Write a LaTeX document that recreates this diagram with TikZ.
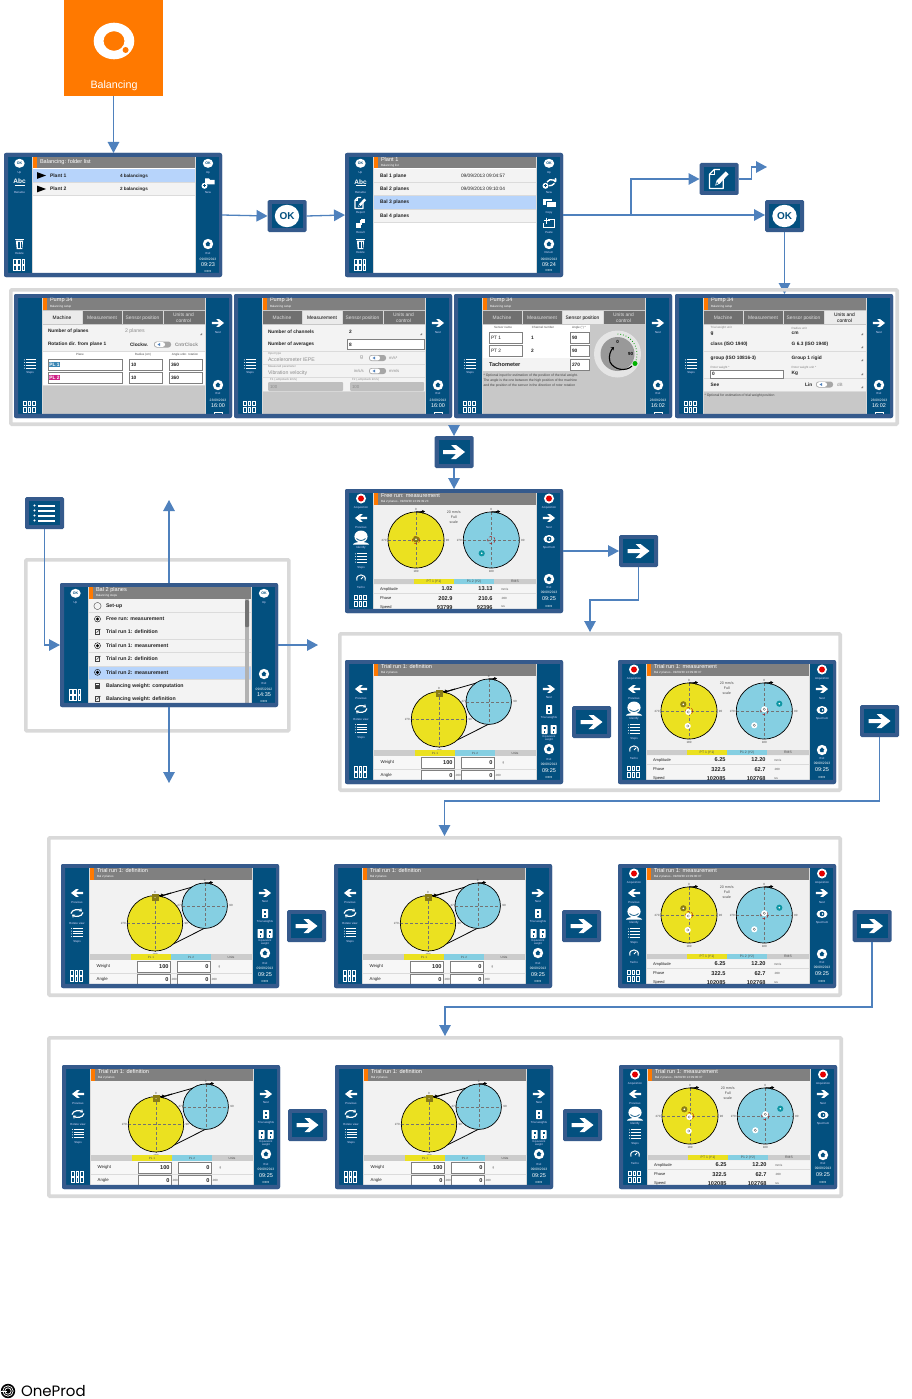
\documentclass[tikz,border=0pt]{standalone}
\usepackage{fontspec}
\setmainfont{Liberation Sans}
\newfontfamily\logofont{Poppins}
\usetikzlibrary{arrows.meta}
\definecolor{framec}{HTML}{355A8C}
\definecolor{panelc}{HTML}{03507F}
\definecolor{conc}{HTML}{4F81BD}
\definecolor{grayb}{HTML}{D9D9D9}
\definecolor{orangec}{HTML}{FF7900}
\definecolor{hdrc}{HTML}{808080}
\definecolor{hilite}{HTML}{B7D4FB}
\definecolor{rowc}{HTML}{F3F3F3}
\definecolor{tabc}{HTML}{707070}
\definecolor{setupbg}{HTML}{C8C8C8}
\definecolor{yel}{HTML}{EBE120}
\definecolor{blu}{HTML}{85CFE2}
\definecolor{oliv}{HTML}{8A7D14}
\definecolor{teal2}{HTML}{0F96A3}
\definecolor{txt}{HTML}{222222}
\tikzset{
 frame/.style={fill=framec,rounded corners=2pt,minimum width=218pt,minimum height=124pt,inner sep=0,outer sep=0,anchor=north west},
 iconbox/.style={fill=framec,rounded corners=1.5pt,minimum width=39pt,minimum height=32pt,inner sep=0,outer sep=0},
 graybox/.style={draw=grayb,line width=3.6pt,rounded corners=1pt,inner sep=0,outer sep=1.8pt},
 conn/.style={draw=conc,line width=1.3pt,-{Triangle[length=11pt,width=11.5pt]}},
 lab/.style={inner sep=0,outer sep=0,font=\fontsize{2.9}{3}\selectfont,text=white!85!blue},
 tm/.style={font=\fontsize{5.6}{6}\selectfont,text=white},
 clk/.style={font=\fontsize{5.5}{6}\selectfont,text=white},
 dt/.style={font=\fontsize{3.3}{4}\selectfont,text=white},
 rw/.style={anchor=west,font=\fontsize{5}{6}\bfseries\selectfont,text=txt},
 rwb/.style={anchor=west,font=\fontsize{4.8}{5.5}\bfseries\selectfont,text=txt},
 rws/.style={anchor=west,font=\fontsize{4.6}{5.5}\bfseries\selectfont,text=txt},
 rwm/.style={anchor=west,font=\fontsize{5.2}{6}\bfseries\selectfont,text=txt},
 rwn/.style={anchor=west,font=\fontsize{4.8}{5.5}\selectfont,text=txt},
 rwt/.style={anchor=west,font=\fontsize{4}{5}\selectfont,text=txt},
 gry/.style={anchor=west,font=\fontsize{5.2}{6}\selectfont,text=black!45},
 sml/.style={anchor=west,font=\fontsize{3}{3.5}\selectfont,text=black!65},
 note/.style={anchor=west,font=\fontsize{3.4}{4}\selectfont,text=black!75},
 smc/.style={font=\fontsize{3}{3.5}\selectfont,text=black!70},
 val/.style={anchor=east,font=\fontsize{5.6}{6}\bfseries\selectfont,text=txt},
 fld/.style={fill=white,draw=black!50,line width=.5pt},
 axis/.style={densely dashed,line width=.25pt,draw=black!55},
}
\newcounter{tn}
\newcommand\T[3][]{\stepcounter{tn}\node[lab,#1] (t\arabic{tn}) at (#2) {#3};}
% ---- icons
\newcommand\icOK[2]{\fill[white] (#1,#2) ellipse (5.2 and 4.5);\T[font=\fontsize{3.6}{4}\bfseries\selectfont,text=panelc]{#1,#2}{OK}}
\newcommand\icGrid[2]{\begin{scope}[shift={(#1,#2)}]
 \foreach \i in {0,4.3,8.6}{\foreach \j in {0,6.2}{\draw[white,line width=.6pt] (\i,\j) rectangle ++(2.7,4.6);}}
 \end{scope}}
\newcommand\icArrow[4][1]{\begin{scope}[shift={(#2,#3)},xscale=#4*#1,yscale=#1]
 \fill[white] (-11,-2) -- (2,-2) -- (-3,-7) -- (2,-7) -- (11,0) -- (2,7) -- (-3,7) -- (2,2) -- (-11,2) -- cycle;
 \end{scope}}
\newcommand\icList[3][1]{\begin{scope}[shift={(#2,#3)},scale=#1]
 \foreach \r in {-7.5,-2.5,2.5,7.5}{\fill[white] (-10,\r) circle (1.1);\fill[white] (-7,{\r-1}) rectangle (10,{\r+1});}
 \end{scope}}
\newcommand\icExit[2]{\fill[white] (#1,#2) circle (5.2);
 \fill[panelc] ({#1-2.4},{#2-.3}) -- (#1,{#2-2.6}) -- ({#1+2.4},{#2-.3}) -- ({#1+1.6},{#2+.2}) -- ({#1+1.6},{#2+2.2}) -- ({#1-1.4},{#2+2.2}) -- cycle;}
\newcommand\icRec[2]{\fill[white] (#1,#2) circle (5);\fill[red!90!black] (#1,#2) circle (3);}
\newcommand\icFace[2]{\begin{scope}[shift={(#1,#2)}]
 \fill[white] (0,-1) ellipse (6.6 and 6);
 \draw[panelc,line width=.7pt] (-4.5,1) .. controls (-2,3.6) and (2,3.6) .. (4.5,1);
 \fill[white] (-8,7) .. controls (-7,3.6) and (7,3.6) .. (8,7) -- cycle;
 \end{scope}}
\newcommand\icTacho[2]{\begin{scope}[shift={(#1,#2)}]
 \draw[white,line width=1pt] (-4,2.5) .. controls (-6.5,-5) and (6.5,-5) .. (4,2.5);
 \draw[white,line width=.8pt] (0,1) -- (2.2,-1.2);
 \end{scope}}
\newcommand\icEye[2]{\fill[white] (#1,#2) ellipse (5.5 and 4);\fill[panelc] (#1,#2) circle (2.4);\fill[white] ({#1+.5},#2) circle (.8);}
\newcommand\icRot[2]{\begin{scope}[shift={(#1,#2)}]
 \draw[white,line width=1.2pt,-{Stealth[length=3pt,width=4pt]}] (-6,.5) .. controls (-5,-4) and (2,-4) .. (5,-1.5);
 \draw[white,line width=1.2pt,-{Stealth[length=3pt,width=4pt]}] (6,-.5) .. controls (5,4) and (-2,4) .. (-5,1.5);
 \end{scope}}
\newcommand\icWeight[2]{\begin{scope}[shift={(#1,#2)}]
 \fill[white,rounded corners=.6pt] (-3,-4) rectangle (3,5);\fill[panelc] (-1,-2.5) rectangle (1,0);\fill[panelc] (-.8,1.5) rectangle (.8,3.5);
 \end{scope}}
\newcommand\icTwo[2]{\icWeight{#1-4.5}{#2}\icWeight{#1+4.5}{#2}}
\newcommand\icTrash[2]{\begin{scope}[shift={(#1,#2)}]
 \fill[white] (-3.6,-3.4) -- (3.6,-3.4) -- (2.8,5) -- (-2.8,5) -- cycle;
 \fill[white] (-4.4,-5) rectangle (4.4,-4);
 \foreach \u in {-1.5,0,1.5}{\draw[panelc,line width=.4pt] (\u,-2.5) -- (\u,4);}
 \end{scope}}
\newcommand\icAbc[2]{\T[font=\fontsize{6.5}{7}\bfseries\selectfont,text=white]{#1,#2}{Abc}\fill[white] ({#1-5},{#2+3.2}) rectangle ({#1+5},{#2+3.9});}
\newcommand\icEdit[3][1]{\begin{scope}[shift={(#2,#3)},scale=#1]
 \draw[white,line width=1.1pt,line join=round] (4.5,-4) -- (4.5,10) -- (-10,10) -- (-10,-5) -- (-5,-10) -- (1,-10);
 \draw[white,line width=.8pt] (-10,-5) -- (-5,-5) -- (-5,-10);
 \fill[white] (-4,7) -- (-2.6,1.8) -- (7,-8) -- (10,-5) -- (.6,5) -- cycle;
 \fill[panelc] (-3,5.8) -- (-2.2,3.2) -- (-.9,4.6) -- cycle;
 \end{scope}}
\newcommand\icFolder[2]{\begin{scope}[shift={(#1,#2)}]
 \fill[white] (-3,-4.5) -- (1,-4.5) -- (2,-3.2) -- (6.5,-3.2) -- (6.5,1.5) -- (-3,1.5) -- cycle;
 \fill[white] (-3.5,2.8) circle (3);\draw[panelc,line width=.6pt] (-5.2,2.8) -- (-1.8,2.8) (-3.5,1.1) -- (-3.5,4.5);
 \end{scope}}
\newcommand\icNew[2]{\begin{scope}[shift={(#1,#2)}]
 \draw[white,line width=1.4pt] (-2,-1) arc (-150:-30:5) ;
 \fill[white] (6.5,-3) ellipse (1 and 2.2);\draw[white,line width=1.4pt] (5.5,0.3) .. controls (4,2) and (2,3) .. (0,2.8);
 \fill[white] (-3.5,2.8) circle (3);\draw[panelc,line width=.6pt] (-5.2,2.8) -- (-1.8,2.8) (-3.5,1.1) -- (-3.5,4.5);
 \end{scope}}
\newcommand\icCopy[2]{\begin{scope}[shift={(#1,#2)}]
 \fill[white] (-6.5,-4) rectangle (3,2);\fill[white] (-2.5,-1) rectangle (6.5,4);\draw[panelc,line width=.5pt] (-3.2,-1.6) rectangle (7,4.6);\fill[white] (-2.5,-1) rectangle (6.5,4);
 \end{scope}}
\newcommand\icPaste[2]{\begin{scope}[shift={(#1,#2)}]
 \draw[white,line width=.9pt] (-1,-3.2) -- (5,-3.2) -- (5,4.5) -- (-5.5,4.5) -- (-5.5,-.5);
 \draw[white,line width=1pt] (-2.5,-5.5) -- (-2.5,.5) (-5.5,-2.5) -- (.5,-2.5);
 \end{scope}}
\newcommand\icResult[2]{\begin{scope}[shift={(#1,#2)}]
 \fill[white] (-4.5,.2) rectangle (0,4.6);\fill[white] (.5,-4.4) rectangle (4.5,-.3);\fill[white] (-.5,-2.6) rectangle (1.5,1.5);
 \end{scope}}
\newcommand\icTri[2]{\fill[black] (#1,{#2-3.4}) -- ({#1+9},#2) -- (#1,{#2+3.4}) -- cycle;}
\newcommand\tog[2]{\begin{scope}[shift={(#1,#2)}]
 \fill[black!35,rounded corners=2.6pt] (0,-3) rectangle (17,3);
 \fill[white,rounded corners=2.2pt] (.8,-2.3) rectangle (11,2.3);
 \fill[conc] (3.5,0) -- (6,-1.5) -- (6,1.5) -- cycle;
 \end{scope}}
% ---- screens
\newcommand\scr[3]{\node[frame] (#1) at (#2,#3) {};
 \begin{scope}[shift={(#2,#3)}]
 \fill[black!15] (28,3.7) rectangle (192,119.8);
 \fill[panelc] (4,3.7) rectangle (28,119.8);
 \fill[panelc] (192,3.7) rectangle (215,119.8);}
\newcommand\scrend{\fill[framec,even odd rule,rounded corners=2pt] (0,0) rectangle (218,124) [sharp corners] (4,3.7) rectangle (215,119.8);\end{scope}}
\newcommand\bg[1]{\fill[#1] (29,15.5) rectangle (191,120);}
\newcommand\hdr[2]{\fill[hdrc] (29,3.7) rectangle (191,15.5);\fill[orangec] (29,3.7) rectangle (32.6,15.5);
 \T[tm,anchor=west]{36,6.6}{#1}\T[sml,text=white!85]{36,12.8}{#2}}
\newcommand\rowb[3][rowc]{\fill[#1] (29,#2) rectangle (191,#3);\fill[black!14] (29,#3) rectangle (191,{#3+.7});}
\newcommand\tabs[1]{\fill[tabc] (29,17) rectangle (191,30.3);
 \foreach \q/\a/\b in {1/28.5/68,2/68/108,3/108/148.7,4/148.7/190.5}{\ifnum\q=#1\fill[black!8] (\a,17) rectangle (\b,30.3);\fi}
 \foreach \q in {68,108,148.7}{\fill[white!85!black] (\q,17) rectangle ({\q+.5},30.3);}
 \foreach \q/\c/\s in {1/48/Machine,2/88/Measurement,3/128.5/Sensor position,4/169.5/{Units and\\control}}{
  \ifnum\q=#1\T[align=center,font=\fontsize{4.9}{5.6}\selectfont,text=black]{\c,23.8}{\s}\else\T[align=center,font=\fontsize{4.9}{5.6}\selectfont,text=white!88!black]{\c,23.8}{\s}\fi}}
\newcommand\setupR[1]{\icArrow[.55]{204}{29}{1}\T{204,39}{Next}\icExit{204}{91}\T{204,99.7}{Exit}\T[dt]{204,106}{23/09/2013}\T[clk]{204,111.7}{#1}\draw[white,line width=.5pt] (200,118) rectangle (208,122);}
\newcommand\setupL{\icList[.55]{16}{70}\T{16,79}{Steps}\icGrid{9.5}{107}}
\newcommand\measL{\icRec{16}{9.5}\T{16,19}{Acquisition}\icArrow[.55]{16}{29}{-1}\T{16,38.7}{Previous}\icFace{16}{48.5}\T{16,58.7}{Identify}\icList[.55]{16}{69}\T{16,78.7}{Steps}\icTacho{16}{89}\T{16,98.7}{Tacho}\icGrid{9.5}{106}}
\newcommand\measR[1]{\icRec{204}{9.5}\T{204,19}{Acquisition}\icArrow[.55]{204}{29}{1}\T{204,38.7}{Next}\icEye{204}{50}\T{204,59}{Spectrum}\icExit{204}{90}\T{204,98}{Exit}\T[dt]{204,103.5}{09/09/2013}\T[clk]{204,110}{#1}\T[text=white]{204,117}{IDR3}}
\newcommand\polar[4]{\fill[#4] (#1,#2) circle (#3);
 \draw[axis] ({#1-#3},#2) -- ({#1+#3},#2) (#1,{#2-#3}) -- (#1,{#2+#3});
 \draw[black,line width=.7pt] (#1,#2) circle (#3);
 \draw[black,line width=1pt,-{Stealth[length=3pt,width=3.6pt]}] (#1,{#2-#3}) -- ({#1+9},{#2-#3-.5});
 \T[smc]{#1,{#2-#3-3}}{0}\T[smc]{{#1+#3+3.5},#2}{90}\T[smc]{#1,{#2+#3+3}}{180}\T[smc]{{#1-#3-4},#2}{270}}
\newcommand\mrk[3]{\fill[#3] (#1,#2) circle (3.1);\fill[white] (#1,#2) circle (.9);}
\newcommand\mrkw[2]{\fill[white] (#1,#2) circle (3.1);\draw[black!60,line width=.3pt] (#1,#2) circle (1.2);}
\newcommand\measbody[8]{\bg{black!6}\hdr{#1}{#2}
 \polar{71}{51}{28}{yel}\polar{146.3}{51}{28}{blu}
 \draw[red!70!black,line width=.35pt,densely dashed] (71,51) circle (3.8) (146.3,51) circle (3.8);
 \T[smc,align=center,font=\fontsize{3.6}{5}\selectfont]{108.7,28}{20 mm/s\\Full\\scale}
 \fill[black!20] (29,89.5) rectangle (191,95.3);\fill[yel] (69,89.5) rectangle (108.5,95.3);\fill[blu] (109,89.5) rectangle (149,95.3);
 \T[smc,font=\fontsize{3.4}{4}\selectfont]{89,92.4}{PT 1 (Y1)}\T[smc,font=\fontsize{3.4}{4}\selectfont]{129,92.4}{P1 2 (Y2)}\T[smc,font=\fontsize{3.4}{4}\selectfont]{170,92.4}{RMS}
 \rowb[white!96!black]{95.7}{104}\rowb[white!96!black]{105}{113.5}\rowb[white!96!black]{114.2}{121}
 \T[rwt]{35,100}{Amplitude}\T[val]{107.5,100}{#3}\T[val]{147.5,100}{#4}\T[sml]{156,100}{mm/s}
 \T[rwt]{35,109.2}{Phase}\T[val]{107.5,109.2}{#5}\T[val]{147.5,109.2}{#6}\T[sml]{156,109.2}{.000}
 \T[rwt]{35,118.2}{Speed}\T[val]{107.5,118.2}{#7}\T[val]{147.5,118.2}{#8}\T[sml]{156,118.2}{rev}}
\newcommand\trialdef[3]{\scr{#1}{#2}{#3}\bg{black!5}
 \hdr{Trial run 1: definition}{Bal 2 planes}
 \draw[black,line width=.8pt] (98,32.5) -- (143.7,19.5) (112.3,80) -- (145,63.5);
 \polar{94}{59.3}{27.7}{yel}
 \fill[blu] (143.7,41.7) circle (22.7);\draw[axis] (121,41.7) -- (166.4,41.7) (143.7,19) -- (143.7,64.4);\draw[black,line width=.7pt] (143.7,41.7) circle (22.7);
 \draw[black,line width=1pt,-{Stealth[length=3pt,width=3.6pt]}] (143.7,19) -- (152,18.5);
 \draw[black,line width=1pt,-{Stealth[length=3pt,width=3.6pt]}] (110,29) -- (98.5,32.5);
 \T[smc]{143.7,16}{0}\T[smc]{170,41.7}{90}\T[smc]{119,41.7}{270}
 \fill[oliv] (90.5,30) rectangle (97.5,37);\fill[white] (94,33.5) circle (.5);
 \fill[black!20] (29,90) rectangle (191,95.8);\fill[yel] (69.7,90) rectangle (110,95.8);\fill[blu] (110,90) rectangle (150,95.8);
 \T[smc]{90,93}{PL 1}\T[smc]{130,93}{PL 2}\T[smc]{170,93}{Units}
 \rowb[white!97!black]{96.3}{108.8}\rowb[white!97!black]{109.5}{121}
 \T[rwt,font=\fontsize{4.3}{5}\selectfont]{35.7,102.7}{Weight}\T[rwt,font=\fontsize{4.3}{5}\selectfont]{35.7,115}{Angle}
 \draw[fld] (76.3,97.3) rectangle (109,108);\draw[fld] (116,97.3) rectangle (149,108);
 \draw[fld] (76.3,110) rectangle (109,122);\draw[fld] (116,110) rectangle (149,122);
 \T[val]{107.5,102.7}{100}\T[val]{147.5,102.7}{0}\T[sml]{157.5,102.7}{g}
 \T[val]{107.5,115.3}{0}\T[val]{147.5,115.3}{0}\T[sml]{110,115.3}{.000}\T[sml]{150,115.3}{.000}
 \icArrow[.55]{16}{29}{-1}\T{16,38.3}{Previous}\icRot{16}{49}\T{16,59}{Rotate view}\icList[.55]{16}{68.5}\T{16,77.7}{Steps}\icGrid{9.5}{106.5}
 \icArrow[.55]{204}{29}{1}\T{204,38}{Next}\icWeight{204}{49}\T{204,58}{Trial weights}\icTwo{204}{69}\T[align=center,font=\fontsize{2.7}{3.2}\selectfont]{204,78.5}{Equivalent\\weight}\icExit{204}{89}\T{204,99}{Exit}\T[dt]{204,104}{09/09/2013}\T[clk]{204,110.7}{09:25}\T[text=white]{204,117}{IDR3}
 \scrend}
\newcommand\trialmeas[3]{\scr{#1}{#2}{#3}\measbody{Trial run 1: measurement}{Bal 2 planes - 09/09/30 13:09:00:37}{6.25}{12.20}{322.5}{62.7}{102085}{102768}
 \mrk{65.3}{44.3}{oliv}\mrkw{70.3}{52}\mrkw{69.7}{66}
 \mrk{161.3}{43.7}{teal2}\mrkw{146.3}{49.3}\mrkw{136.3}{65.3}
 \measL\measR{09:25}\scrend}
\newcommand\bigbox[3]{\node[iconbox] (#1) at (#2,#3) {};\fill[panelc] ({#2-15.5},{#3-12}) rectangle ({#2+15.5},{#3+12});}
\newcommand\okbox[3]{\bigbox{#1}{#2}{#3}\fill[white] (#2,#3) ellipse (12.2 and 11.2);\T[font=\fontsize{10}{11}\bfseries\selectfont,text=panelc]{#2,#3}{OK}}
\newcommand\nextbox[3]{\bigbox{#1}{#2}{#3}\icArrow{#2}{#3}{1}}
\begin{document}
\begin{tikzpicture}[x=1pt,y=-1pt]
\useasboundingbox (0,0) rectangle (912,1399);
\fill[white] (0,0) rectangle (912,1399);
% ---- top
\node[fill=orangec,minimum width=99pt,minimum height=96pt,inner sep=0,outer sep=0,anchor=north west] (orange) at (64,0) {};
\fill[white,even odd rule] (114,41) ellipse (20.3 and 18.3) (114,41) ellipse (10.5 and 9.8);
\fill[white] (125.6,50) circle (4.6);\fill[orangec] (125.6,50) circle (3);
\T[font=\fontsize{10.7}{12}\selectfont,text=white]{114,85.5}{Balancing}
% ---- small screens row 1
\scr{s1}{4}{153}\bg{white}
 \fill[hdrc] (29,3.7) rectangle (191,15.5);\fill[orangec] (29,3.7) rectangle (32.6,15.5);
 \T[tm,anchor=west]{36,9.3}{Balancing: folder list}
 \rowb[hilite]{16}{29}\rowb{30}{42.3}
 \icTri{33}{22.5}\icTri{33}{36}
 \T[rw]{46,23}{Plant 1}\T[rws]{116,23}{4 balancings}
 \T[rw]{46,36}{Plant 2}\T[rws]{116,36}{2 balancings}
 \icOK{15.5}{10.3}\T{15.5,19.5}{Up}\icAbc{15.5}{28.5}\T{15.5,39.7}{Rename}\icTrash{15.5}{91}\T{15.5,100}{Delete}\icGrid{9.3}{106.5}
 \icOK{204}{10.3}\T{204,19.5}{Up}\icFolder{204}{30}\T{204,39.7}{New}\icExit{204}{91}\T{204,100}{Exit}\T[dt]{204,106.3}{09/09/2013}\T[clk]{204,112}{09:23}\T[text=white]{204,118.5}{IDR3}
\scrend
\scr{s2}{345}{153}\bg{white}
 \hdr{Plant 1}{Balancing list}
 \rowb{16}{29}\rowb{30}{42.3}\rowb[hilite]{43.3}{55.5}\rowb{56.5}{69.3}
 \T[rw]{35,23}{Bal 1 plane}\T[rwn]{116,23}{09/09/2013 09:04:57}
 \T[rw]{35,36}{Bal 2 planes}\T[rwn]{116,36}{09/09/2013 09:10:04}
 \T[rw]{35,49.5}{Bal 3 planes}\T[rw]{35,63}{Bal 4 planes}
 \icOK{15.5}{10.3}\T{15.5,19.5}{Up}\icAbc{15.5}{29}\T{15.5,39.7}{Rename}\icEdit[.55]{15.5}{50}\T{15.5,59.7}{Report}\icResult{15.5}{70}\T{15.5,79.7}{Result}\icTrash{15.5}{91}\T{15.5,99.7}{Delete}\icGrid{9.3}{106.5}
 \icOK{204}{10.3}\T{204,19.5}{Up}\icNew{204}{30}\T{204,39.7}{New}\icCopy{204}{50}\T{204,59.7}{Copy}\icPaste{204}{70}\T{204,79.7}{Paste}\icExit{204}{91}\T{204,99.7}{Return}\T[dt]{204,106}{09/09/2013}\T[clk]{204,111.7}{09:24}\T[text=white]{204,118}{IDR3}
\scrend
% ---- icon boxes row 1
\okbox{ok1}{287}{216}
\bigbox{edit}{719}{179}\icEdit[.95]{719}{179}
\okbox{ok2}{784.5}{216}
\coordinate (tipE) at (767,167);
\draw[conn] (orange.south) -- (orange.south |- s1.north);
\draw[conn] (s1.east) -- (ok1.west);
\draw[conn] (ok1.east) -- (s2.west);
\coordinate (j1) at (631,215);
\draw[conn] (s2.east) -- (j1) |- (edit.west);
\draw[conn] (edit.east) -- ++(13,0) |- (tipE);
\draw[conn] (s2.east) -- (s2.east -| ok2.west);
\coordinate (s6top) at (784.5,294);
\draw[conn] (ok2.south) -- (s6top);
% ---- gray boxes
\node[graybox,minimum width=886.4pt,minimum height=134.4pt,anchor=north west] (row2) at (9,288) {};
\node[graybox,minimum width=263pt,minimum height=171pt,anchor=north west] (mbox) at (24,558) {};
\node[graybox,minimum width=500.4pt,minimum height=156.4pt,anchor=north west] (row3) at (338,632) {};
\node[graybox,minimum width=791.4pt,minimum height=157.4pt,anchor=north west] (row4) at (47,836) {};
\node[graybox,minimum width=792.4pt,minimum height=158.4pt,anchor=north west] (row5) at (47,1036) {};
% ---- setup row
\scr{s3}{14}{294}\bg{setupbg}\hdr{Pump 34}{Balancing setup}\tabs{1}
 \rowb{31}{43.7}\rowb{44.3}{57}\rowb[white]{57.7}{91}
 \T[rwb]{34,37.5}{Number of planes}\T[gry]{111,37.5}{2 planes}\fill[black!50] (186,41) -- (188,39) -- (188,41) -- cycle;
 \T[rwb]{34,50.7}{Rotation dir. from plane 1}\T[rwb]{116,50.7}{Clockw.}\tog{140}{50.5}\T[gry,font=\fontsize{4.8}{5.5}\bfseries\selectfont]{161,50.7}{CntrClock}
 \T[smc]{66,60.7}{Plane}\T[smc]{129,60.7}{Radius (cm)}\T[smc]{171,60.7}{Angle unbr. rotation}
 \foreach \yy in {65,78}{\draw[fld] (34,\yy) rectangle (108,{\yy+11});\draw[fld] (115,\yy) rectangle (148,{\yy+11});\draw[fld] (155,\yy) rectangle (188,{\yy+11});}
 \node[fill=conc!70!teal2,inner sep=.8pt,font=\fontsize{4.8}{5.5}\bfseries\selectfont,text=white,anchor=west] (pl1) at (34.3,70.5) {PL 1};
 \node[fill=magenta!85!black,inner sep=.8pt,font=\fontsize{4.8}{5.5}\bfseries\selectfont,text=white,anchor=west] (pl2) at (34.3,83.5) {PL 2};
 \T[rwb]{117,70.5}{10}\T[rwb]{157,70.5}{360}\T[rwb]{117,83.5}{10}\T[rwb]{157,83.5}{360}
 \setupL\setupR{16:00}
\scrend
\scr{s4}{234}{294}\bg{setupbg}\hdr{Pump 34}{Balancing setup}\tabs{2}
 \rowb{31}{43.7}\rowb{44.3}{57}\rowb{57.7}{70}\rowb{70.8}{83}\rowb{83.7}{97}
 \T[rwb]{34,37.5}{Number of channels}\T[rwb]{115,37.5}{2}\fill[black!50] (186,41) -- (188,39) -- (188,41) -- cycle;
 \T[rwb]{34,50.7}{Number of averages}\draw[fld] (113,45.5) rectangle (190,55.5);\T[rwb]{115,50.7}{8}
 \T[sml,text=black!45]{34,59.5}{Input type}\T[gry]{34,65.5}{Accelerometer IEPE}\T[gry]{126,64}{g}\tog{135}{64}\T[gry,font=\fontsize{4.2}{5}\selectfont]{155,64}{m/s²}
 \T[sml,text=black!45]{34,72.5}{Measured parameter}\T[gry]{34,79}{Vibration velocity}\T[gry,font=\fontsize{4.2}{5}\selectfont]{120,77}{in/s/s}\tog{135}{77}\T[gry,font=\fontsize{4.2}{5}\selectfont]{155,77}{mm/s}
 \T[sml,text=black!45]{36,86}{F1 (.ampstack km/s)}\T[sml,text=black!45]{118,86}{F2 (.ampstack km/s)}
 \fill[black!25,rounded corners=1pt] (34,88) rectangle (109,97);\fill[black!25,rounded corners=1pt] (116,88) rectangle (190,97);
 \T[gry,font=\fontsize{4.4}{5}\selectfont]{36,92.5}{100}\T[gry,font=\fontsize{4.4}{5}\selectfont]{118,92.5}{100}
 \setupL\setupR{16:00}
\scrend
\scr{s5}{454}{294}\bg{setupbg}\hdr{Pump 34}{Balancing setup}\tabs{3}
 \fill[white] (29,31) rectangle (136,77);
 \fill[rowc] (29,64) rectangle (136,77);
 \T[smc]{49,33.5}{Sensor name}\T[smc]{89,33.5}{Channel number}\T[smc]{125,33.5}{Angle (°) *}
 \foreach \yy in {38,51}{\draw[fld] (35,\yy) rectangle (68.7,{\yy+11});\draw[fld] (116,\yy) rectangle (135,{\yy+11});}
 \draw[fld] (116,65) rectangle (135,76);
 \T[rwn]{37,43.5}{PT 1}\T[rwb]{77,43.5}{1}\T[rwb]{118,43.5}{90}
 \T[rwn]{37,56.5}{PT 2}\T[rwb]{77,56.5}{2}\T[rwb]{118,56.5}{90}
 \T[rwm,font=\fontsize{5.6}{6}\bfseries\selectfont]{35,70.5}{Tachometer}\T[rwb]{118,70.5}{270}
 \T[note]{29.5,82}{* Optional input for estimation of the position of the trial weight.}
 \T[note]{29.5,87}{The angle is the one between the high position of the machine}
 \T[note]{29.5,92}{and the position of the sensor in the direction of rotor rotation}
 \fill[black!10] (163.5,60) circle (23.5);\fill[black!40] (163.5,60) circle (17);
 \draw[green!60!black,line width=.8pt,dotted] (163.5,40) .. controls (175,40) and (183,50) .. (183,60) .. controls (183,64) and (182,67) .. (181,69);
 \fill[green!70!black] (181,69.5) circle (2.5);
 \draw[black,line width=1.1pt,-{Stealth[length=3pt,width=4pt]}] (178,72) .. controls (172,78) and (160,76) .. (156,68) .. controls (154,62) and (157,56) .. (160,53);
 \T[font=\fontsize{4.5}{5}\bfseries\selectfont,text=black]{163.5,47.5}{0}\T[font=\fontsize{4.5}{5}\bfseries\selectfont,text=black]{176.5,60}{90}
 \setupL\setupR{16:02}
\scrend
\scr{s6}{675}{294}\bg{setupbg}\hdr{Pump 34}{Balancing setup}\tabs{4}
 \rowb{31}{43.7}\rowb{44.3}{57}\rowb{57.7}{70.5}\rowb{71.2}{84}\rowb{84.7}{97}
 \T[sml,text=black!50]{35.7,34}{Trial weight unit}\T[rwb]{35.7,39.5}{g}\T[sml,text=black!50]{116.7,34}{Radius unit}\T[rwb]{116.7,39.5}{cm}
 \T[rwb]{35.7,50.7}{class (ISO 1940)}\T[rwb]{116.7,50.7}{G 6.3 (ISO 1940)}
 \T[rwb]{35.7,64}{group (ISO 10816-3)}\T[rwb]{116.7,64}{Group 1 rigid}
 \T[sml,text=black!50]{35.7,74}{Rotor weight *}\draw[fld] (35,76) rectangle (108,84);\T[rwb]{37,80}{0}\T[sml,text=black!50]{116.7,74}{Rotor weight unit *}\T[rwb]{116.7,79.5}{Kg}
 \T[rwb]{35.7,90.5}{See}\T[rwb]{130,90.5}{Lin}\tog{141}{90.5}\T[gry,font=\fontsize{4.6}{5}\selectfont]{162,90.5}{dB}
 \T[note]{29.5,102}{* Optional for estimation of trial weight position}
 \foreach \yy in {41,54,67,81,94}{\fill[black!50] (186,\yy) -- (188,{\yy-2}) -- (188,\yy) -- cycle;}
 \setupL\setupR{16:02}
\scrend
% ---- menu screen
\scr{ms}{60}{583}\bg{white}\hdr{Bal 2 planes}{Balancing steps}
 \foreach \a/\b in {16/29.2,29.9/42.6,43.3/56,56.7/69.4,70.1/82.8,96.9/109.6,110.3/121}{\rowb{\a}{\b}}
 \rowb[hilite]{83.5}{96.2}
 \fill[black!30] (185,16) rectangle (189,120);\fill[black!55,rounded corners=1pt] (185,17) rectangle (189,44);
 \draw[black!70,line width=.4pt] (37.5,23) circle (3.6);
 \foreach \yy in {36,62.7,89.3}{\draw[black,line width=.4pt] (37.5,\yy) circle (3);\fill[black] (37.5,\yy) circle (1.7);}
 \foreach \yy in {49,76,116}{\draw[black!75,line width=.5pt] (35,{\yy-2.3}) rectangle (39,{\yy+2.5});\draw[black!75,line width=.5pt] (36.5,{\yy+.7}) -- (40.5,{\yy-3});}
 \fill[black!75] (35,100) rectangle (40,105.5);\fill[white] (36,101) rectangle (39,102.3);
 \T[rwm]{46,23}{Set-up}
 \T[rwm]{46,36}{Free run: measurement}
 \T[rwm]{46,49}{Trial run 1: definition}
 \T[rwm]{46,62.7}{Trial run 1: measurement}
 \T[rwm]{46,76}{Trial run 2: definition}
 \T[rwm]{46,89.3}{Trial run 2: measurement}
 \T[rwm]{46,102.7}{Balancing weight: computation}
 \T[rwm]{46,116}{Balancing weight: definition}
 \icOK{15.5}{10.3}\T{15.5,19.5}{Up}\icGrid{9.3}{106.5}
 \icOK{204}{10.3}\T{204,19.5}{Up}\icExit{204}{91}\T{204,100}{Exit}\T[dt]{204,106}{09/05/2012}\T[clk]{204,112}{14:35}\T[text=white]{204,118.5}{IDR3}
\scrend
% ---- free run
\scr{fr}{345}{489}\measbody{Free run: measurement}{Bal 2 planes - 09/09/30 13:09:39:23}{1.02}{13.13}{202.9}{210.6}{93799}{92396}
 \mrk{71}{50.3}{oliv}\mrk{136.7}{64.3}{teal2}
 \measL\measR{09:25}
\scrend
% ---- icon arrows
\nextbox{nx1}{454}{452}
\nextbox{nx2}{638.5}{551}
\bigbox{mi}{44.5}{513}\icList{44.5}{513}
\nextbox{nx3a}{591.5}{722}
\nextbox{nx3}{879.5}{721}
\nextbox{nx4a}{306.5}{926}
\nextbox{nx4b}{581.5}{926}
\nextbox{nx4}{872}{926}
\nextbox{nx5a}{307.5}{1125}
\nextbox{nx5b}{582.5}{1125}
% ---- rows 3-5
\trialdef{td1}{345}{660}
\trialmeas{tm1}{618}{660}
\trialdef{td2}{61}{864}
\trialdef{td3}{334}{864}
\trialmeas{tm2}{618}{864}
\trialdef{td4}{62}{1065}
\trialdef{td5}{335}{1065}
\trialmeas{tm3}{619}{1065}
% ---- connectors
\draw[conn] (row2.south) -- (nx1.north);
\draw[conn] (nx1.south) -- (fr.north);
\draw[conn] (fr.east) -- (nx2.west);
\draw[conn] (nx2.south) -- ++(0,33) -| (row3.north);
\draw[conn] (nx3.south) -- ++(0,64) -| (row4.north);
\draw[conn] (nx4.south) -- ++(0,65) -| (row5.north);
\draw[conn] (mi.south) |- (ms.west);
\coordinate (upE) at (169,500);
\coordinate (dnE) at (169,783);
\coordinate (rtE) at (318,645);
\draw[conn] (ms.north) -- (upE);
\draw[conn] (ms.south) -- (dnE);
\draw[conn] (ms.east) -- (rtE);
% ---- logo
\fill[black] (8,1391) circle (7.2);
\draw[white,line width=.7pt] (8,1391) circle (5.2) (8,1391) circle (3.2);
\fill[white] (1,1390.5) rectangle (7,1391.5);
\node[inner sep=0,outer sep=0,anchor=west,font=\logofont\fontsize{15}{16}\selectfont,text=black] (oneprod) at (21,1391) {OneProd};
\end{tikzpicture}
\end{document}
